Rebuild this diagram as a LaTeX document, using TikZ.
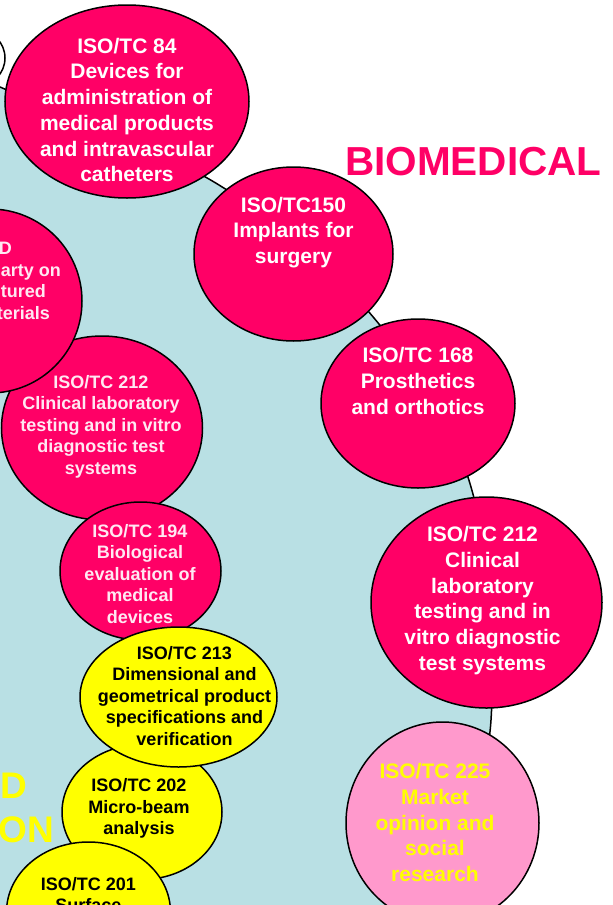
\documentclass[tikz,border=0pt]{standalone}
\usepackage{fontspec}
\setmainfont{Liberation Sans}
\usetikzlibrary{shapes.geometric}
\definecolor{magen}{RGB}{255,0,102}
\definecolor{lblue}{RGB}{185,224,228}
\definecolor{lpink}{RGB}{255,153,204}
\definecolor{yel}{RGB}{255,255,0}
\definecolor{paletxt}{RGB}{255,232,242}
\begin{document}
\begin{tikzpicture}[x=1pt,y=-1pt,
  bub/.style={ellipse, draw=black, line width=1.5pt, inner sep=0pt},
  rbub/.style={bub, fill=magen},
  ybub/.style={bub, fill=yel},
  pbub/.style={bub, fill=lpink},
  bigtxt/.style={font=\bfseries\fontsize{21}{25.7}\selectfont, align=center, text=white, inner sep=0pt},
  smltxt/.style={font=\bfseries\fontsize{18}{21.5}\selectfont, align=center, text=paletxt, inner sep=0pt},
  ytxt/.style={smltxt, text=black},
  bigyel/.style={font=\bfseries\fontsize{37}{40}\selectfont, text=yel, inner sep=0pt, anchor=base east},
  frag/.style={font=\bfseries\fontsize{18}{21.5}\selectfont, text=paletxt, inner sep=0pt, anchor=base east},
]
\useasboundingbox (0,0) rectangle (613,905);
\clip (0,0) rectangle (613,905);
\fill[white] (0,0) rectangle (613,905);
% light blue region
\fill[lblue] plot[smooth,tension=0.6] coordinates {(-30,76) (0,87) (219,185) (374,318) (471,487) (491,720) (444,905) (430,960)} -- (-30,960) -- cycle;
\draw[line width=1.5pt] plot[smooth,tension=0.6] coordinates {(-30,76) (0,87) (219,185) (374,318) (471,487) (491,720) (444,905) (430,960)};
% far-left circle edge
\node[bub, fill=white, minimum width=56pt, minimum height=56pt] (eoff) at (-23,58) {};
% title
\node[font=\bfseries\fontsize{40.5}{44}\selectfont, text=magen, inner sep=0pt, anchor=base west] (title) at (345,175) {BIOMEDICAL};
% right-hand bubbles
\node[rbub, minimum width=244pt, minimum height=193pt] (e84) at (127,101.5) {};
\node[bigtxt] (t84) at (127,110) {ISO/TC 84\\Devices for\\administration of\\medical products\\and intravascular\\catheters};
\node[rbub, minimum width=199pt, minimum height=174pt] (e150) at (293.5,254) {};
\node[bigtxt] (t150) at (293.5,232.4) {ISO/TC150\\Implants for\\surgery};
\node[rbub, minimum width=194pt, minimum height=169pt] (e168) at (418,403.5) {};
\node[bigtxt] (t168) at (418,381) {ISO/TC 168\\Prosthetics\\and orthotics};
\node[rbub, minimum width=231pt, minimum height=211pt] (e212r) at (486.5,602.5) {};
\node[bigtxt] (t212r) at (482.5,600.5) {ISO/TC 212\\Clinical\\laboratory\\testing and in\\vitro diagnostic\\test systems};
\node[pbub, minimum width=193pt, minimum height=202pt] (e225) at (442.5,823) {};
\node[bigtxt, text=yel] (t225) at (435,822.7) {ISO/TC 225\\Market\\opinion and\\social\\research};
% left-hand bubbles
\node[rbub, minimum width=201pt, minimum height=184pt] (e212l) at (102,428) {};
\node[smltxt] (t212l) at (101,426.6) {ISO/TC 212\\Clinical laboratory\\testing and in vitro\\diagnostic test\\systems};
\node[rbub, minimum width=184pt, minimum height=184pt] (enano) at (-10,301) {};
\node[frag] (f1) at (12,254) {D};
\node[frag] (f2) at (61,276) {arty on};
\node[frag] (f3) at (46,297.5) {tured};
\node[frag] (f4) at (50,319) {terials};
\node[rbub, minimum width=161pt, minimum height=138pt] (e194) at (140.5,571) {};
\node[smltxt] (t194) at (140,574) {ISO/TC 194\\Biological\\evaluation of\\medical\\devices};
\node[ybub, minimum width=160pt, minimum height=135pt] (e202) at (142,812) {};
\node[ytxt] (t202) at (139,808.4) {ISO/TC 202\\Micro-beam\\analysis};
\node[ybub, minimum width=197pt, minimum height=140pt] (e213) at (178.5,697) {};
\node[ytxt] (t213) at (184.5,696) {ISO/TC 213\\Dimensional and\\geometrical product\\specifications and\\verification};
\node[ybub, minimum width=164pt, minimum height=140pt] (e201) at (88.5,912) {};
\node[ytxt] (t201) at (88.3,894.75) {ISO/TC 201\\Surface};
% yellow fragments
\node[bigyel] (yd) at (27,798) {D};
\node[bigyel] (yon) at (54,842) {ON};
\end{tikzpicture}
\end{document}
